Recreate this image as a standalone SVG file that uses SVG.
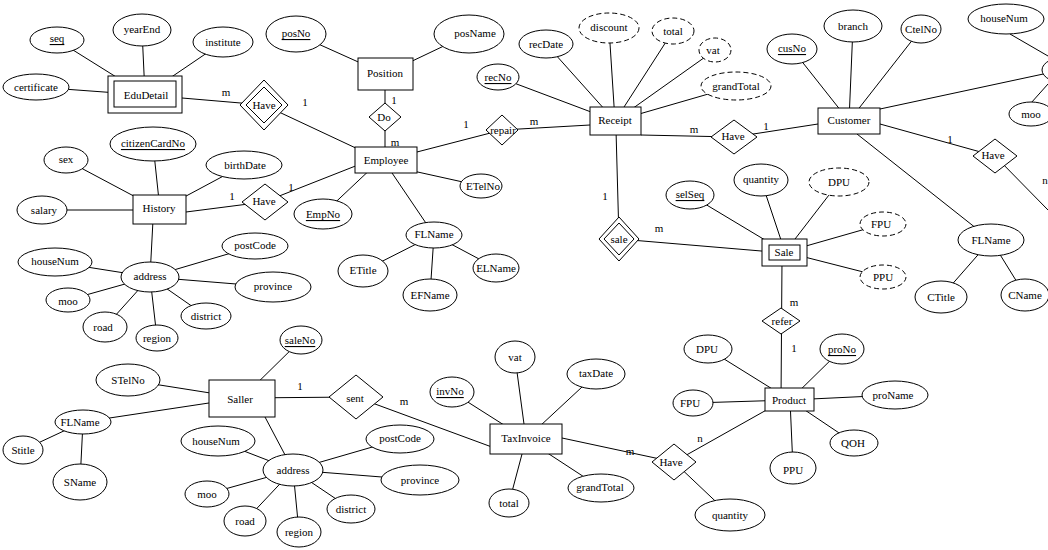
<svg xmlns="http://www.w3.org/2000/svg" width="1048" height="550" viewBox="0 0 1048 550">
<style>
text{font-family:"Liberation Serif",serif;font-size:11px;text-anchor:middle;dominant-baseline:central;fill:#000}
.u{text-decoration:underline}
ellipse,rect,polygon{fill:#fff;stroke:#000;stroke-width:1}
.d{stroke-dasharray:5,3}
line{stroke:#000;stroke-width:1}
</style>
<rect x="0" y="0" width="1048" height="550" style="stroke:none"/>
<g id="connectors">
<line x1="57" y1="40" x2="145" y2="95"/><line x1="142" y1="30" x2="145" y2="95"/><line x1="223" y1="42" x2="145" y2="95"/><line x1="36" y1="87" x2="145" y2="95"/>
<line x1="182" y1="98" x2="264" y2="105"/><line x1="264" y1="105" x2="360" y2="150"/>
<line x1="296" y1="34" x2="385" y2="74"/><line x1="469" y1="34" x2="385" y2="74"/><line x1="385" y1="74" x2="385" y2="160"/>
<line x1="386" y1="160" x2="502" y2="130"/><line x1="502" y1="130" x2="590" y2="125"/>
<line x1="386" y1="165" x2="481" y2="186"/><line x1="375" y1="165" x2="323" y2="214"/><line x1="390" y1="170" x2="434" y2="235"/>
<line x1="434" y1="235" x2="363" y2="271"/><line x1="434" y1="235" x2="430" y2="295"/><line x1="434" y1="235" x2="496" y2="268"/>
<line x1="160" y1="210" x2="153" y2="144"/><line x1="160" y1="210" x2="66" y2="160"/><line x1="160" y1="210" x2="244" y2="165"/><line x1="160" y1="210" x2="42" y2="210"/>
<line x1="186" y1="212" x2="264" y2="202"/><line x1="264" y1="202" x2="358" y2="165"/>
<line x1="153" y1="220" x2="150" y2="277"/>
<line x1="150" y1="277" x2="55" y2="262"/><line x1="150" y1="277" x2="255" y2="246"/><line x1="150" y1="277" x2="273" y2="287"/><line x1="150" y1="277" x2="68" y2="300"/><line x1="150" y1="277" x2="105" y2="327"/><line x1="150" y1="277" x2="157" y2="338"/><line x1="150" y1="277" x2="206" y2="316"/>
<line x1="615" y1="121" x2="546" y2="44"/><line x1="615" y1="121" x2="609" y2="28"/><line x1="615" y1="121" x2="673" y2="31"/><line x1="615" y1="121" x2="715" y2="50"/><line x1="615" y1="121" x2="736" y2="86"/><line x1="615" y1="121" x2="498" y2="77"/>
<line x1="641" y1="135" x2="734" y2="137"/><line x1="734" y1="137" x2="818" y2="124"/>
<line x1="849" y1="121" x2="792" y2="49"/><line x1="849" y1="121" x2="853" y2="26"/><line x1="849" y1="121" x2="921" y2="29"/>
<line x1="880" y1="109" x2="1048" y2="73"/><line x1="1010" y1="34" x2="1048" y2="56"/><line x1="1031" y1="103" x2="1048" y2="84"/>
<line x1="880" y1="124" x2="995" y2="156"/><line x1="995" y1="156" x2="1048" y2="210"/>
<line x1="857" y1="134" x2="991" y2="240"/><line x1="991" y1="240" x2="941" y2="297"/><line x1="991" y1="240" x2="1025" y2="295"/>
<line x1="616" y1="130" x2="619" y2="239"/><line x1="619" y1="239" x2="785" y2="253"/>
<line x1="785" y1="252" x2="690" y2="195"/><line x1="785" y1="252" x2="761" y2="180"/><line x1="785" y1="252" x2="839" y2="182"/><line x1="785" y1="252" x2="883" y2="224"/><line x1="785" y1="252" x2="883" y2="277"/>
<line x1="782" y1="260" x2="781" y2="400"/>
<line x1="790" y1="400" x2="708" y2="349"/><line x1="790" y1="400" x2="842" y2="349"/><line x1="790" y1="400" x2="895" y2="395"/><line x1="790" y1="400" x2="693" y2="403"/><line x1="790" y1="400" x2="854" y2="443"/><line x1="790" y1="400" x2="793" y2="468"/>
<line x1="526" y1="439" x2="515" y2="357"/><line x1="526" y1="439" x2="596" y2="374"/><line x1="526" y1="439" x2="452" y2="392"/><line x1="526" y1="439" x2="509" y2="503"/><line x1="526" y1="439" x2="601" y2="488"/>
<line x1="562" y1="438" x2="674" y2="462"/><line x1="674" y1="462" x2="770" y2="408"/><line x1="674" y1="462" x2="730" y2="515"/>
<line x1="242" y1="398" x2="356" y2="397"/><line x1="356" y1="397" x2="500" y2="450"/>
<line x1="242" y1="398" x2="301" y2="340"/><line x1="242" y1="398" x2="128" y2="380"/><line x1="242" y1="398" x2="83" y2="422"/>
<line x1="83" y1="422" x2="23" y2="450"/><line x1="83" y1="422" x2="80" y2="482"/>
<line x1="265" y1="417" x2="293" y2="470"/>
<line x1="293" y1="470" x2="218" y2="441"/><line x1="293" y1="470" x2="400" y2="439"/><line x1="293" y1="470" x2="420" y2="480"/><line x1="293" y1="470" x2="207" y2="494"/><line x1="293" y1="470" x2="245" y2="521"/><line x1="293" y1="470" x2="299" y2="532"/><line x1="293" y1="470" x2="351" y2="509"/>
<text x="226" y="92">m</text><text x="305" y="102">1</text><text x="394" y="100">1</text><text x="395" y="142">m</text><text x="466" y="124">1</text>
<text x="232" y="196">1</text><text x="291" y="187">1</text><text x="534" y="121">m</text><text x="694" y="129">m</text><text x="766" y="126">1</text>
<text x="950" y="139">1</text><text x="1045" y="180">n</text><text x="605" y="196">1</text><text x="659" y="228">m</text>
<text x="794" y="302">m</text><text x="794" y="348">1</text><text x="300" y="386">1</text><text x="404" y="401">m</text><text x="630" y="451">m</text><text x="700" y="438">n</text>
</g>
<g id="EduDetail"><rect x="108" y="76" width="74" height="37"/><rect x="114" y="81" width="62" height="26"/><text x="146" y="95">EduDetail</text></g>
<g id="a-seq"><ellipse cx="57" cy="40" rx="27" ry="13"/><text x="57" y="38" class="u">seq</text></g>
<g id="a-yearEnd"><ellipse cx="142" cy="30" rx="29" ry="16"/><text x="142" y="29">yearEnd</text></g>
<g id="a-institute"><ellipse cx="223" cy="42" rx="30" ry="15"/><text x="223" y="42">institute</text></g>
<g id="a-certificate"><ellipse cx="36" cy="87" rx="33" ry="13"/><text x="36" y="87">certificate</text></g>
<g id="r-have1"><polygon points="240,105 264,80 288,105 264,130"/><polygon points="246,105 264,87 282,105 264,123"/><text x="264" y="105">Have</text></g>
<g id="Position"><rect x="358" y="58" width="55" height="32"/><text x="385" y="73">Position</text></g>
<g id="a-posNo"><ellipse cx="296" cy="34" rx="30" ry="18"/><text x="296" y="33" class="u">posNo</text></g>
<g id="a-posName"><ellipse cx="469" cy="34" rx="35" ry="19"/><text x="475" y="33">posName</text></g>
<g id="r-do"><polygon points="369,117 385,103 401,117 385,131"/><text x="384" y="117">Do</text></g>
<g id="Employee"><rect x="355" y="147" width="62" height="26"/><text x="386" y="160">Employee</text></g>
<g id="r-repair"><polygon points="486,130 502,115 518,130 502,145"/><text x="503" y="130">repair</text></g>
<g id="a-ETelNo"><ellipse cx="481" cy="186" rx="21" ry="12"/><text x="483" y="186">ETelNo</text></g>
<g id="a-EmpNo"><ellipse cx="323" cy="214" rx="29" ry="15"/><text x="323" y="214" class="u">EmpNo</text></g>
<g id="a-FLName1"><ellipse cx="434" cy="235" rx="28" ry="13"/><text x="434" y="234">FLName</text></g>
<g id="a-ETitle"><ellipse cx="363" cy="271" rx="25" ry="16"/><text x="363" y="270">ETitle</text></g>
<g id="a-EFName"><ellipse cx="430" cy="295" rx="27" ry="16"/><text x="430" y="295">EFName</text></g>
<g id="a-ELName"><ellipse cx="496" cy="268" rx="23" ry="14"/><text x="496" y="268">ELName</text></g>
<g id="History"><rect x="133" y="195" width="53" height="29"/><text x="159" y="208">History</text></g>
<g id="a-citizen"><ellipse cx="153" cy="144" rx="43" ry="17"/><text x="153" y="143" class="u">citizenCardNo</text></g>
<g id="a-sex"><ellipse cx="66" cy="160" rx="22" ry="13"/><text x="66" y="159">sex</text></g>
<g id="a-birth"><ellipse cx="244" cy="165" rx="38" ry="14"/><text x="245" y="165">birthDate</text></g>
<g id="a-salary"><ellipse cx="42" cy="210" rx="25" ry="14"/><text x="44" y="210">salary</text></g>
<g id="r-have2"><polygon points="242,202 265,184 288,202 265,220"/><text x="264" y="201">Have</text></g>
<g id="a-addr1"><ellipse cx="150" cy="277" rx="29" ry="15"/><text x="150" y="276">address</text></g>
<g id="a-hn1"><ellipse cx="55" cy="262" rx="37" ry="14"/><text x="55" y="261">houseNum</text></g>
<g id="a-pc1"><ellipse cx="255" cy="246" rx="33" ry="13"/><text x="255" y="245">postCode</text></g>
<g id="a-prov1"><ellipse cx="273" cy="287" rx="38" ry="15"/><text x="273" y="286">province</text></g>
<g id="a-moo1"><ellipse cx="68" cy="300" rx="22" ry="12"/><text x="68" y="301">moo</text></g>
<g id="a-road1"><ellipse cx="105" cy="327" rx="22" ry="15"/><text x="103" y="327">road</text></g>
<g id="a-reg1"><ellipse cx="157" cy="338" rx="21" ry="13"/><text x="157" y="338">region</text></g>
<g id="a-dist1"><ellipse cx="206" cy="316" rx="25" ry="13"/><text x="206" y="316">district</text></g>
<g id="Receipt"><rect x="590" y="107" width="51" height="28"/><text x="615" y="120">Receipt</text></g>
<g id="a-recDate"><ellipse cx="546" cy="44" rx="27" ry="14"/><text x="546" y="44">recDate</text></g>
<g id="a-discount"><ellipse class="d" cx="609" cy="28" rx="30" ry="15"/><text x="609" y="27">discount</text></g>
<g id="a-total1"><ellipse class="d" cx="673" cy="31" rx="21" ry="13"/><text x="673" y="31">total</text></g>
<g id="a-vat1"><ellipse class="d" cx="715" cy="50" rx="16" ry="12"/><text x="713" y="50">vat</text></g>
<g id="a-gt1"><ellipse class="d" cx="736" cy="86" rx="35" ry="14"/><text x="736" y="86">grandTotal</text></g>
<g id="a-recNo"><ellipse cx="498" cy="77" rx="21" ry="13"/><text x="498" y="77" class="u">recNo</text></g>
<g id="r-have3"><polygon points="711,137 734,120 757,137 734,154"/><text x="733" y="136">Have</text></g>
<g id="Customer"><rect x="818" y="108" width="62" height="26"/><text x="849" y="120">Customer</text></g>
<g id="a-cusNo"><ellipse cx="792" cy="49" rx="25" ry="15"/><text x="792" y="48" class="u">cusNo</text></g>
<g id="a-branch"><ellipse cx="853" cy="26" rx="29" ry="16"/><text x="853" y="26">branch</text></g>
<g id="a-CtelNo"><ellipse cx="921" cy="29" rx="20" ry="14"/><text x="921" y="29">CtelNo</text></g>
<g id="a-hn2"><ellipse cx="1006" cy="19" rx="38" ry="15"/><text x="1004" y="18">houseNum</text></g>
<g id="a-addr2"><ellipse cx="1070" cy="70" rx="28" ry="14"/></g>
<g id="a-moo2"><ellipse cx="1031" cy="114" rx="22" ry="12"/><text x="1031" y="114">moo</text></g>
<g id="r-have4"><polygon points="973,156 995,139 1017,156 995,173"/><text x="993" y="155">Have</text></g>
<g id="a-FLName2"><ellipse cx="991" cy="240" rx="33" ry="16"/><text x="991" y="240">FLName</text></g>
<g id="a-CTitle"><ellipse cx="941" cy="297" rx="26" ry="16"/><text x="941" y="297">CTitle</text></g>
<g id="a-CName"><ellipse cx="1025" cy="295" rx="24" ry="16"/><text x="1025" y="295">CName</text></g>
<g id="r-sale"><polygon points="599,239 619,217 639,239 619,261"/><polygon points="604,239 619,223 634,239 619,255"/><text x="619" y="239">sale</text></g>
<g id="Sale"><rect x="762" y="239" width="45" height="27"/><rect x="769" y="245" width="31" height="15"/><text x="784" y="252">Sale</text></g>
<g id="a-selSeq"><ellipse cx="690" cy="195" rx="24" ry="14"/><text x="690" y="194" class="u">selSeq</text></g>
<g id="a-qty1"><ellipse cx="761" cy="180" rx="27" ry="16"/><text x="761" y="179">quantity</text></g>
<g id="a-DPU1"><ellipse class="d" cx="839" cy="182" rx="30" ry="14"/><text x="839" y="182">DPU</text></g>
<g id="a-FPU1"><ellipse class="d" cx="883" cy="224" rx="23" ry="12"/><text x="881" y="224">FPU</text></g>
<g id="a-PPU1"><ellipse class="d" cx="883" cy="277" rx="23" ry="12"/><text x="883" y="277">PPU</text></g>
<g id="r-refer"><polygon points="762,321 781,308 800,321 781,334"/><text x="782" y="321">refer</text></g>
<g id="Product"><rect x="765" y="388" width="49" height="23"/><text x="789" y="400">Product</text></g>
<g id="a-DPU2"><ellipse cx="708" cy="349" rx="24" ry="14"/><text x="707" y="349">DPU</text></g>
<g id="a-proNo"><ellipse cx="842" cy="349" rx="22" ry="15"/><text x="842" y="349" class="u">proNo</text></g>
<g id="a-proName"><ellipse cx="895" cy="395" rx="33" ry="14"/><text x="893" y="395">proName</text></g>
<g id="a-FPU2"><ellipse cx="693" cy="403" rx="20" ry="13"/><text x="690" y="403">FPU</text></g>
<g id="a-QOH"><ellipse cx="854" cy="443" rx="24" ry="13"/><text x="853" y="443">QOH</text></g>
<g id="a-PPU2"><ellipse cx="793" cy="468" rx="23" ry="16"/><text x="793" y="470">PPU</text></g>
<g id="a-qty2"><ellipse cx="730" cy="515" rx="35" ry="16"/><text x="730" y="515">quantity</text></g>
<g id="TaxInvoice"><rect x="490" y="424" width="72" height="30"/><text x="526" y="438">TaxInvoice</text></g>
<g id="a-vat2"><ellipse cx="515" cy="357" rx="20" ry="16"/><text x="515" y="357">vat</text></g>
<g id="a-taxDate"><ellipse cx="596" cy="374" rx="29" ry="15"/><text x="596" y="373">taxDate</text></g>
<g id="a-invNo"><ellipse cx="452" cy="392" rx="22" ry="15"/><text x="450" y="391" class="u">invNo</text></g>
<g id="a-total2"><ellipse cx="509" cy="503" rx="20" ry="14"/><text x="509" y="503">total</text></g>
<g id="a-gt2"><ellipse cx="601" cy="488" rx="33" ry="14"/><text x="600" y="487">grandTotal</text></g>
<g id="r-have5"><polygon points="652,462 674,444 696,462 674,480"/><text x="671" y="462">Have</text></g>
<g id="r-sent"><polygon points="329,397 356,375 383,397 356,419"/><text x="355" y="398">sent</text></g>
<g id="Saller"><rect x="209" y="380" width="66" height="37"/><text x="240" y="399">Saller</text></g>
<g id="a-saleNo"><ellipse cx="301" cy="340" rx="21" ry="14"/><text x="300" y="340" class="u">saleNo</text></g>
<g id="a-STelNo"><ellipse cx="128" cy="380" rx="32" ry="16"/><text x="128" y="380">STelNo</text></g>
<g id="a-FLName3"><ellipse cx="83" cy="422" rx="28" ry="12"/><text x="80" y="422">FLName</text></g>
<g id="a-Stitle"><ellipse cx="23" cy="450" rx="20" ry="14"/><text x="23" y="450">Stitle</text></g>
<g id="a-SName"><ellipse cx="80" cy="482" rx="27" ry="18"/><text x="80" y="482">SName</text></g>
<g id="a-addr3"><ellipse cx="293" cy="470" rx="30" ry="16"/><text x="293" y="470">address</text></g>
<g id="a-hn3"><ellipse cx="218" cy="441" rx="37" ry="15"/><text x="216" y="441">houseNum</text></g>
<g id="a-pc3"><ellipse cx="400" cy="439" rx="34" ry="14"/><text x="400" y="438">postCode</text></g>
<g id="a-prov3"><ellipse cx="420" cy="480" rx="39" ry="15"/><text x="420" y="480">province</text></g>
<g id="a-moo3"><ellipse cx="207" cy="494" rx="22" ry="13"/><text x="207" y="494">moo</text></g>
<g id="a-road3"><ellipse cx="245" cy="521" rx="21" ry="15"/><text x="245" y="521">road</text></g>
<g id="a-reg3"><ellipse cx="299" cy="532" rx="22" ry="15"/><text x="299" y="532">region</text></g>
<g id="a-dist3"><ellipse cx="351" cy="509" rx="24" ry="14"/><text x="351" y="509">district</text></g>
</svg>
